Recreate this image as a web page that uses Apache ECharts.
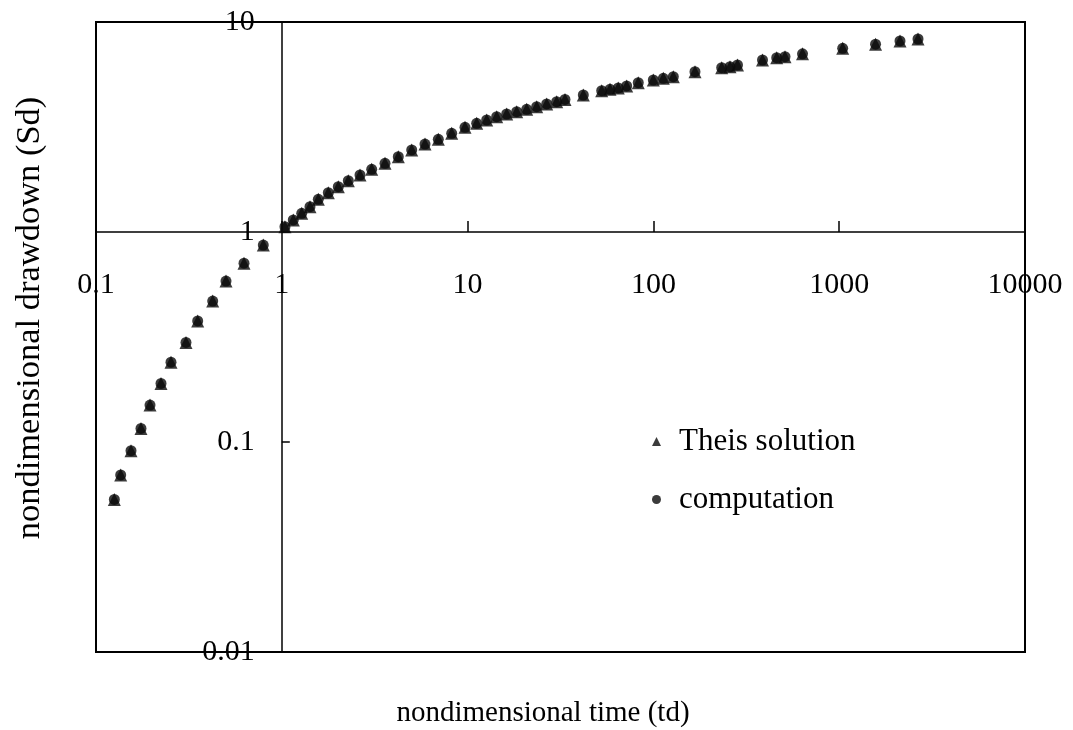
<!DOCTYPE html>
<html>
<head>
<meta charset="utf-8">
<script src="https://cdn.jsdelivr.net/npm/echarts@6/dist/echarts.min.js"></script>
<style>
html,body{margin:0;padding:0;background:#fff;}
#chart{width:1073px;height:730px;}
</style>
</head>
<body>
<div id="chart"></div>
<script>
// nondimensional time td
const tdValues = [
  0.1255, 0.1358, 0.1543, 0.1746, 0.1953, 0.2238, 0.2533, 0.305, 0.3526, 0.4247, 0.5008, 0.626, 0.795,
  1.04, 1.153, 1.28, 1.418, 1.572, 1.78, 2.014, 2.28, 2.636, 3.047, 3.593, 4.236, 5.003, 5.898, 6.956, 8.211, 9.683,
  11.19, 12.67, 14.34, 16.23, 18.38, 20.8, 23.54, 26.65, 30.17, 33.43,
  41.95, 52.68, 58.4, 64.7, 71.8, 82.9, 99.9, 113.1, 128, 167.4, 233.1, 258.4, 283.5,
  386.6, 461, 510.9, 634.7, 1044, 1569, 2124, 2656
];
// Theis solution Sd
const theisSd = [
  0.0533, 0.0697, 0.0909, 0.116, 0.150, 0.190, 0.240, 0.298, 0.377, 0.469, 0.584, 0.710, 0.867,
  1.06, 1.141, 1.228, 1.32, 1.431, 1.539, 1.643, 1.755, 1.868, 1.989, 2.124, 2.284, 2.458, 2.624, 2.763, 2.951, 3.151,
  3.293, 3.415, 3.54, 3.647, 3.74, 3.84, 3.952, 4.07, 4.173, 4.276,
  4.491, 4.709, 4.782, 4.851, 4.959, 5.14, 5.295, 5.394, 5.49, 5.8, 6.059, 6.125, 6.241,
  6.592, 6.761, 6.836, 7.056, 7.494, 7.842, 8.121, 8.299
];
// computation Sd (coincides with Theis in the figure)
const computationSd = [
  0.0533, 0.0697, 0.0909, 0.116, 0.150, 0.190, 0.240, 0.298, 0.377, 0.469, 0.584, 0.710, 0.867,
  1.06, 1.141, 1.228, 1.32, 1.431, 1.539, 1.643, 1.755, 1.868, 1.989, 2.124, 2.284, 2.458, 2.624, 2.763, 2.951, 3.151,
  3.293, 3.415, 3.54, 3.647, 3.74, 3.84, 3.952, 4.07, 4.173, 4.276,
  4.491, 4.709, 4.782, 4.851, 4.959, 5.14, 5.295, 5.394, 5.49, 5.8, 6.059, 6.125, 6.241,
  6.592, 6.761, 6.836, 7.056, 7.494, 7.842, 8.121, 8.299
];
const xTickLabels = ['0.1', '1', '10', '100', '1000', '10000'];
const yTickLabels = ['0.01', '0.1', '1', '10'];
const seriesNames = ['Theis solution', 'computation'];

const FONT = '"Liberation Serif", "Times New Roman", serif';
const INK = '#0a0a0a';

const chart = echarts.init(document.getElementById('chart'));
const fmt = v => String(+Number(v).toPrecision(6));
const pairs = ys => tdValues.map((t, i) => [t, ys[i]]);

const option = {
  animation: false,
  backgroundColor: '#fff',
  grid: {
    left: 96, right: 48, top: 22, bottom: 78,
    show: true, borderColor: '#000', borderWidth: 2,
    containLabel: false, outerBoundsMode: 'none'
  },
  legend: {
    orient: 'vertical', left: 647, top: 421,
    itemWidth: 9, itemHeight: 9, itemGap: 27,
    textStyle: { fontFamily: FONT, fontSize: 31, color: '#000', padding: [0, 0, 0, 13] },
    data: [
      { name: seriesNames[0], icon: 'triangle' },
      { name: seriesNames[1], icon: 'circle' }
    ]
  },
  xAxis: {
    type: 'log', logBase: 10,
    min: +xTickLabels[0], max: +xTickLabels[xTickLabels.length - 1],
    position: 'bottom', offset: 0,
    axisLine: { show: true, onZero: false, lineStyle: { color: '#000', width: 1.5 } },
    axisTick: { show: true, inside: true, length: 11, lineStyle: { color: '#000', width: 1.5 } },
    axisLabel: { show: true, margin: 38, fontFamily: FONT, fontSize: 30, color: '#000',
      showMinLabel: true, showMaxLabel: true, hideOverlap: false, formatter: fmt },
    splitLine: { show: false }
  },
  yAxis: {
    type: 'log', logBase: 10,
    min: +yTickLabels[0], max: +yTickLabels[yTickLabels.length - 1],
    position: 'left', offset: 0,
    axisLine: { show: true, onZero: false, lineStyle: { color: '#000', width: 1.5 } },
    axisTick: { show: true, inside: true, length: 8, lineStyle: { color: '#000', width: 1.5 } },
    axisLabel: { show: true, margin: 27, fontFamily: FONT, fontSize: 30, color: '#000',
      showMinLabel: true, showMaxLabel: true, hideOverlap: false, formatter: fmt },
    splitLine: { show: false }
  },
  graphic: [
    { type: 'text', x: 543, y: 713,
      style: { text: 'nondimensional time (td)', font: '29px ' + FONT, fill: '#000',
        align: 'center', verticalAlign: 'middle' } },
    { type: 'text', x: 30, y: 318, rotation: Math.PI / 2,
      style: { text: 'nondimensional drawdown (Sd)', font: '34.5px ' + FONT, fill: '#000',
        align: 'center', verticalAlign: 'middle' } }
  ],
  series: [
    { name: seriesNames[0], type: 'scatter', symbol: 'triangle', symbolSize: 13,
      itemStyle: { color: INK }, data: pairs(theisSd), z: 3 },
    { name: seriesNames[1], type: 'scatter', symbol: 'circle', symbolSize: 11,
      itemStyle: { color: INK }, data: pairs(computationSd), z: 4 }
  ]
};
chart.setOption(option);

// Move the axes so they cross at td = 1 and Sd = 1 (offsets from the library's own scales)
const gridRect = chart.getModel().getComponent('grid').coordinateSystem.getRect();
const yOnePix = chart.convertToPixel({ yAxisIndex: 0 }, 1);
const xOnePix = chart.convertToPixel({ xAxisIndex: 0 }, 1);
chart.setOption({
  xAxis: { offset: -((gridRect.y + gridRect.height) - yOnePix) },
  yAxis: { offset: -(xOnePix - gridRect.x) }
});
</script>
</body>
</html>
